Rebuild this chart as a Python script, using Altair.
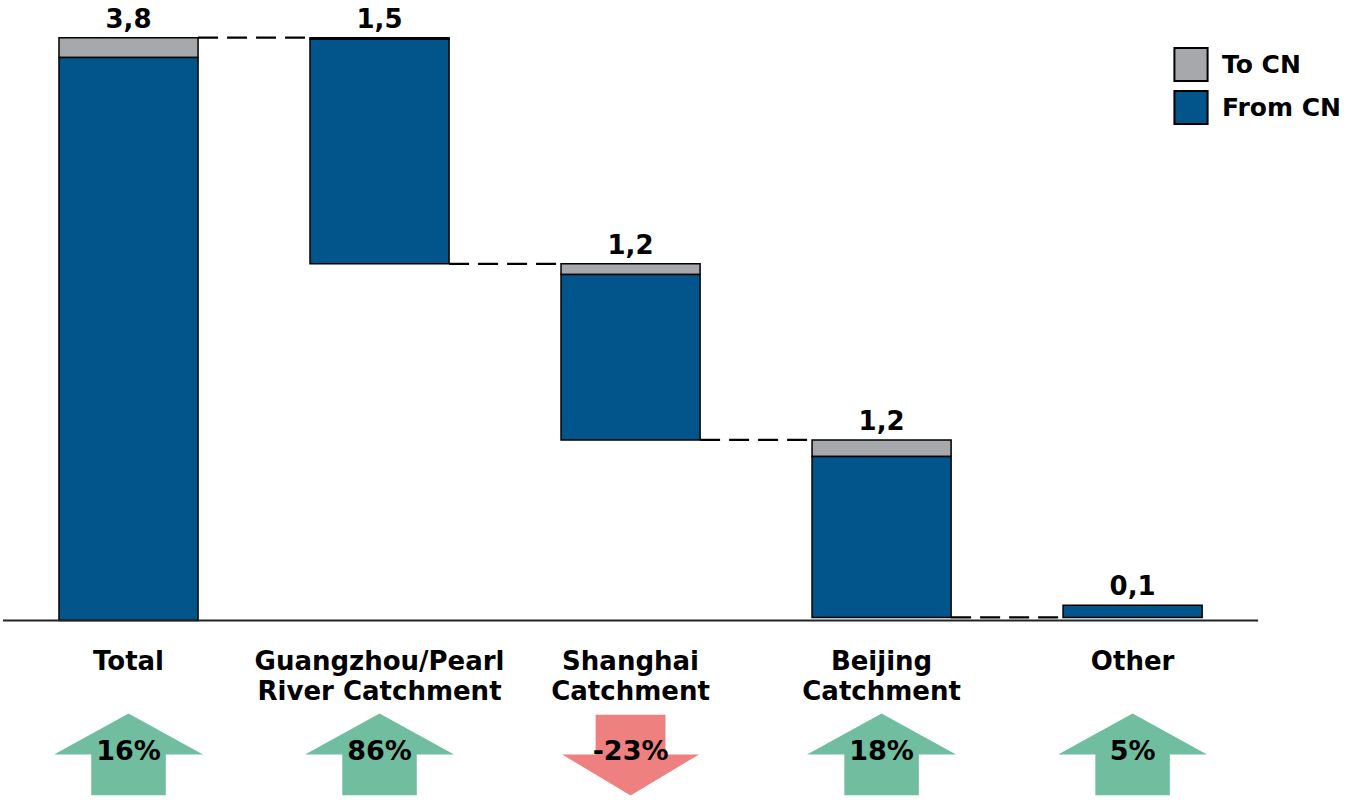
import altair as alt
import pandas as pd

# Waterfall of CN traffic by catchment (values in millions)
categories = ["Total", "Guangzhou", "Shanghai", "Beijing", "Other"]
category_labels = [
    "Total",
    "Guangzhou/Pearl\nRiver Catchment",
    "Shanghai\nCatchment",
    "Beijing\nCatchment",
    "Other",
]
bar_totals = [3.84, 1.49, 1.16, 1.17, 0.08]
to_cn = [0.13, 0.01, 0.07, 0.11, 0.0]
growth_pct = [16, 86, -23, 18, 5]

series_names = ["To CN", "From CN"]
series_colors = ["#A6A8AB", "#02558B"]

FONT = "DejaVu Sans"
HALF_BAR = 0.277   # half bar width, in category steps
X_MIN, X_MAX = -0.512, 4.886   # x extent, in category steps
Y_MIN, Y_MAX = -1.1825, 4.088

UP_ARROW = "M0,-0.55L1,0L0.5,0L0.5,0.55L-0.5,0.55L-0.5,0L-1,0Z"
DOWN_ARROW = "M-0.51,-0.58L0.51,-0.58L0.51,0L1,0L0,0.6L-1,0L-0.51,0Z"

# ---- waterfall geometry --------------------------------------------------
tops, bottoms = [], []
running = bar_totals[0]
tops.append(bar_totals[0])
bottoms.append(0.0)
for v in bar_totals[1:-1]:
    tops.append(running)
    bottoms.append(running - v)
    running -= v
# the remainder bar sits on the level left over by the regions
bottoms.append(running)
tops.append(running + bar_totals[-1])

segments = []
for i, (top, bot, tc) in enumerate(zip(tops, bottoms, to_cn)):
    if tc > 0:
        segments.append({"i": i, "series": "To CN", "lo": top - tc, "hi": top})
    segments.append({"i": i, "series": "From CN", "lo": bot, "hi": top - tc})
seg_df = pd.DataFrame(segments)

label_df = pd.DataFrame({
    "i": list(range(len(categories))),
    "cat": categories,
    "top": tops,
    "label": [f"{v:.1f}".replace(".", ",") for v in bar_totals],
    "name": category_labels,
    "growth": growth_pct,
    "growth_text": [f"{g}%" for g in growth_pct],
})

conn_df = pd.DataFrame({
    "i": list(range(len(categories) - 1)),
    "level": [tops[0]] + bottoms[1:-1],
})

# ---- scales --------------------------------------------------------------
x_scale = alt.Scale(domain=[X_MIN, X_MAX], nice=False, zero=False)
y_scale = alt.Scale(domain=[Y_MIN, Y_MAX], nice=False, zero=False)
Xc = alt.X("i:Q", scale=x_scale, axis=None)

bars = alt.Chart(seg_df).transform_calculate(
    xl=f"datum.i - {HALF_BAR}", xr=f"datum.i + {HALF_BAR}"
).mark_bar(stroke="black", strokeWidth=1.5).encode(
    x=alt.X("xl:Q", scale=x_scale, axis=None),
    x2="xr:Q",
    y=alt.Y("lo:Q", scale=y_scale, axis=None),
    y2="hi:Q",
    color=alt.Color(
        "series:N",
        scale=alt.Scale(domain=series_names, range=series_colors),
        legend=alt.Legend(
            title=None,
            orient="none",
            legendX=1173,
            legendY=46.5,
            symbolType="square",
            symbolSize=1100,
            symbolStrokeColor="black",
            symbolStrokeWidth=2,
            labelFont=FONT,
            labelFontWeight="bold",
            labelFontSize=25,
            labelColor="black",
            labelOffset=13,
            rowPadding=1,
        ),
    ),
)

connectors = alt.Chart(conn_df).transform_calculate(
    xs=f"datum.i + {HALF_BAR}", xe=f"datum.i + 1 - {HALF_BAR}"
).mark_rule(color="black", strokeWidth=2.2, strokeDash=[20, 9]).encode(
    x=alt.X("xs:Q", scale=x_scale, axis=None),
    x2="xe:Q",
    y=alt.Y("level:Q", scale=y_scale, axis=None),
)

# zero line running under the whole row of bars
baseline = alt.Chart(conn_df).transform_aggregate(
    n="count()"
).transform_calculate(
    x0=f"{-0.5}", x1=f"{len(categories) - 0.5}", y0="0"
).mark_rule(color="#222222", strokeWidth=2).encode(
    x=alt.X("x0:Q", scale=x_scale, axis=None),
    x2="x1:Q",
    y=alt.Y("y0:Q", scale=y_scale, axis=None),
)

value_labels = alt.Chart(label_df).mark_text(
    font=FONT, fontWeight="bold", fontSize=26, baseline="alphabetic", dy=-10, color="black"
).encode(
    x=Xc,
    y=alt.Y("top:Q", scale=y_scale, axis=None),
    text="label:N",
)

cat_labels = alt.Chart(label_df).transform_calculate(
    ly="-0.326"
).mark_text(
    font=FONT, fontWeight="bold", fontSize=26, baseline="alphabetic",
    lineBreak="\n", lineHeight=30, color="black"
).encode(
    x=Xc,
    y=alt.Y("ly:Q", scale=y_scale, axis=None),
    text="name:N",
)

# growth arrows under each category
up_arrows = alt.Chart(label_df).transform_filter(
    "datum.growth > 0"
).transform_calculate(
    ay="-0.882"
).mark_point(
    shape=UP_ARROW, size=22201, filled=True, fill="#70BE9F", strokeWidth=0, opacity=1,
).encode(
    x=Xc,
    y=alt.Y("ay:Q", scale=y_scale, axis=None),
)

down_arrows = alt.Chart(label_df).transform_filter(
    "datum.growth < 0"
).transform_calculate(
    ay="-0.882"
).mark_point(
    shape=DOWN_ARROW, size=18769, filled=True, fill="#EF8080", strokeWidth=0, opacity=1,
).encode(
    x=Xc,
    y=alt.Y("ay:Q", scale=y_scale, axis=None),
)

growth_labels = alt.Chart(label_df).transform_calculate(
    gy="-0.866"
).mark_text(
    font=FONT, fontWeight="bold", fontSize=27, baseline="middle", color="black"
).encode(
    x=Xc,
    y=alt.Y("gy:Q", scale=y_scale, axis=None),
    text="growth_text:N",
)

chart = alt.layer(
    up_arrows, down_arrows, growth_labels, connectors, bars, baseline,
    value_labels, cat_labels,
).properties(
    width=1355,
    height=800,
    padding=0,
    background="white",
).configure_view(stroke=None)

chart.save("out.html", embed_options={"renderer": "svg", "actions": False})
